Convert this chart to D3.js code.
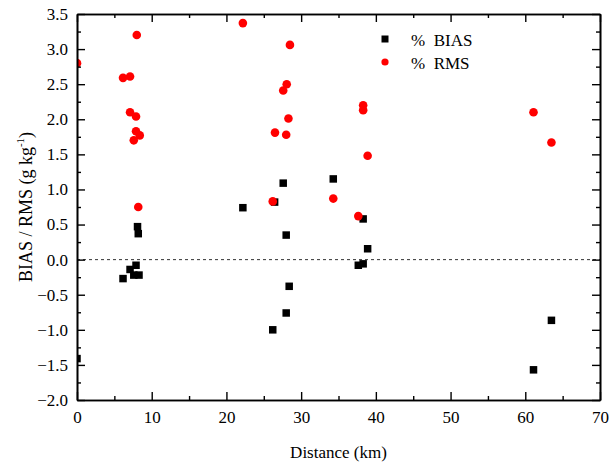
<!DOCTYPE html>
<html>
<head>
<meta charset="utf-8">
<script src="https://cdn.jsdelivr.net/npm/d3@7"></script>
<style>
  html, body { margin: 0; padding: 0; background: #fff; }
  svg { display: block; }
  text { font-family: "Liberation Serif", "Times New Roman", serif; fill: #000; }
</style>
</head>
<body>
<svg id="chart" width="610" height="466"></svg>
<script>
// ---- data ----
const biasDist = [0, 6.16, 7.1, 7.6, 7.9, 8.3, 8.1, 8.2, 22.2, 26.45, 26.2, 27.6, 28.0, 28.4, 28.0, 34.3, 37.65, 38.3, 38.3, 38.9, 61.1, 63.5];
const biasVal  = [-1.41, -0.27, -0.14, -0.22, -0.08, -0.22, 0.47, 0.37, 0.74, 0.82, -1.00, 1.09, 0.35, -0.38, -0.76, 1.15, -0.08, -0.06, 0.58, 0.155, -1.57, -0.865];
const rmsDist  = [0, 6.16, 7.1, 8.0, 7.1, 7.9, 7.9, 8.4, 7.6, 8.2, 22.2, 28.5, 28.07, 27.6, 38.3, 38.3, 28.3, 26.5, 28.0, 38.9, 34.3, 26.2, 37.65, 61.1, 63.5];
const rmsVal   = [2.80, 2.59, 2.61, 3.20, 2.10, 2.04, 1.83, 1.77, 1.70, 0.75, 3.37, 3.06, 2.50, 2.41, 2.20, 2.13, 2.01, 1.81, 1.78, 1.48, 0.87, 0.83, 0.62, 2.10, 1.67];
const xMajorTicks = [0, 10, 20, 30, 40, 50, 60, 70];
const xMinorTicks = [5, 15, 25, 35, 45, 55, 65];
const yMajorTicks = [-2.0, -1.5, -1.0, -0.5, 0.0, 0.5, 1.0, 1.5, 2.0, 2.5, 3.0, 3.5];
const yMinorTicks = [-1.75, -1.25, -0.75, -0.25, 0.25, 0.75, 1.25, 1.75, 2.25, 2.75, 3.25];
const seriesNames = ["%  BIAS", "%  RMS"];
const xLabel = "Distance (km)";

// ---- layout ----
const L = 77, R = 600, T = 14, B = 400;
const svg = d3.select("#chart");
const x = d3.scaleLinear().domain([0, 70]).range([L, R]);
const y = d3.scaleLinear().domain([-2, 3.5]).range([B, T]);
const FS = 17;

// clip
svg.append("defs").append("clipPath").attr("id", "clip")
  .append("rect").attr("x", L).attr("y", T).attr("width", R - L).attr("height", B - T);

// zero dashed line
svg.append("line")
  .attr("x1", L).attr("x2", R).attr("y1", y(0)).attr("y2", y(0))
  .attr("stroke", "#333").attr("stroke-width", 1).attr("stroke-dasharray", "3,3");

// points
const pts = svg.append("g").attr("clip-path", "url(#clip)");
const sq = 7.5;
pts.selectAll("rect.bias").data(biasDist.map((d, i) => [d, biasVal[i]])).join("rect")
  .attr("class", "bias")
  .attr("x", d => x(d[0]) - sq / 2).attr("y", d => y(d[1]) - sq / 2)
  .attr("width", sq).attr("height", sq).attr("fill", "#000");
pts.selectAll("circle.rms").data(rmsDist.map((d, i) => [d, rmsVal[i]])).join("circle")
  .attr("class", "rms")
  .attr("cx", d => x(d[0])).attr("cy", d => y(d[1])).attr("r", 4.3).attr("fill", "#ff0000");

// axes
function styleAxis(g, labels) {
  g.select(".domain").attr("stroke", "#000").attr("stroke-width", 1.6);
  g.selectAll(".tick line").attr("stroke", "#000").attr("stroke-width", 1.4);
  if (!labels) g.selectAll(".tick text").remove();
  else g.selectAll(".tick text").attr("font-size", FS).attr("font-family", '"Liberation Serif", serif');
}
const fmtY = d3.format(".1f");
// bottom
svg.append("g").attr("transform", `translate(0,${B})`)
  .call(d3.axisBottom(x).tickValues(xMajorTicks).tickSize(-8).tickSizeOuter(0).tickPadding(11).tickFormat(d3.format("d")))
  .call(g => styleAxis(g, true));
svg.append("g").attr("transform", `translate(0,${B})`)
  .call(d3.axisBottom(x).tickValues(xMinorTicks).tickSize(-4).tickSizeOuter(0))
  .call(g => styleAxis(g, false));
// top
svg.append("g").attr("transform", `translate(0,${T})`)
  .call(d3.axisTop(x).tickValues(xMajorTicks).tickSize(-8).tickSizeOuter(0))
  .call(g => styleAxis(g, false));
svg.append("g").attr("transform", `translate(0,${T})`)
  .call(d3.axisTop(x).tickValues(xMinorTicks).tickSize(-4).tickSizeOuter(0))
  .call(g => styleAxis(g, false));
// left
svg.append("g").attr("transform", `translate(${L},0)`)
  .call(d3.axisLeft(y).tickValues(yMajorTicks).tickSize(-8).tickSizeOuter(0).tickPadding(9).tickFormat(fmtY))
  .call(g => styleAxis(g, true));
svg.append("g").attr("transform", `translate(${L},0)`)
  .call(d3.axisLeft(y).tickValues(yMinorTicks).tickSize(-4).tickSizeOuter(0))
  .call(g => styleAxis(g, false));
// right
svg.append("g").attr("transform", `translate(${R},0)`)
  .call(d3.axisRight(y).tickValues(yMajorTicks).tickSize(-8).tickSizeOuter(0))
  .call(g => styleAxis(g, false));
svg.append("g").attr("transform", `translate(${R},0)`)
  .call(d3.axisRight(y).tickValues(yMinorTicks).tickSize(-4).tickSizeOuter(0))
  .call(g => styleAxis(g, false));

// axis titles
svg.append("text").attr("x", (L + R) / 2).attr("y", 458)
  .attr("text-anchor", "middle").attr("font-size", FS).text(xLabel);

const yl = svg.append("text").attr("transform", `translate(32,${(T + B) / 2}) rotate(-90)`)
  .attr("text-anchor", "middle").attr("font-size", 18);
yl.append("tspan").text("BIAS / RMS (g kg");
yl.append("tspan").attr("font-size", 11).attr("dy", -8).text("-1");
yl.append("tspan").attr("dy", 8).text(")");

// legend
const lg = svg.append("g");
lg.append("rect").attr("x", 385 - 3.5).attr("y", 39 - 3.5).attr("width", 7).attr("height", 7).attr("fill", "#000");
lg.append("circle").attr("cx", 385).attr("cy", 62).attr("r", 3.6).attr("fill", "#ff0000");
lg.append("text").attr("x", 411).attr("y", 46).attr("font-size", FS).style("white-space", "pre").text(seriesNames[0]);
lg.append("text").attr("x", 411).attr("y", 69).attr("font-size", FS).style("white-space", "pre").text(seriesNames[1]);
</script>
</body>
</html>
